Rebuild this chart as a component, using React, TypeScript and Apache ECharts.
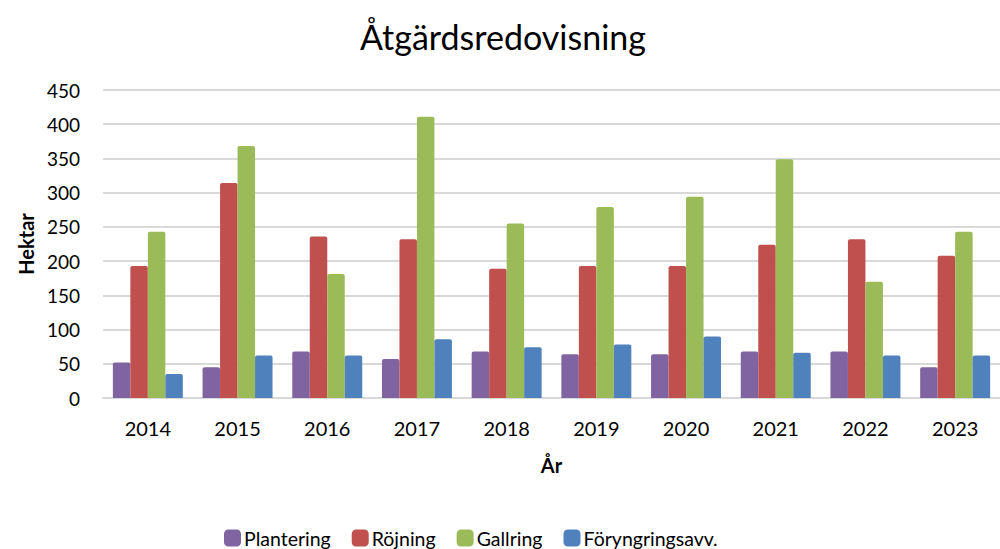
import React, { useEffect, useRef } from "react";
import * as echarts from "echarts";

const years = ["2014", "2015", "2016", "2017", "2018", "2019", "2020", "2021", "2022", "2023"];
const plantering = [52, 45, 68, 57, 68, 64, 64, 68, 68, 45];
const rojning = [193, 314, 236, 232, 189, 193, 193, 224, 232, 208];
const gallring = [243, 368, 181, 411, 255, 279, 294, 349, 170, 243];
const foryngring = [35, 62, 62, 86, 74, 78, 90, 66, 62, 62];

const seriesNames = ["Plantering", "Röjning", "Gallring", "Föryngringsavv."];
const seriesColors = ["#8064A2", "#C0504D", "#9BBB59", "#4F81BD"];

const FONT = "Lato, 'Open Sans', sans-serif";

export default function App() {
  const ref = useRef<HTMLDivElement>(null);
  useEffect(() => {
    if (!ref.current) return;
    const chart = echarts.init(ref.current, undefined, { renderer: "svg" });
    const data = [plantering, rojning, gallring, foryngring];
    chart.setOption({
      animation: false,
      backgroundColor: "#ffffff",
      textStyle: { fontFamily: FONT },
      title: {
        text: "Åtgärdsredovisning",
        left: 498,
        top: 14,
        textAlign: "center",
        textStyle: { fontFamily: FONT, fontSize: 34, fontWeight: "normal", color: "#000" },
      },
      legend: {
        data: seriesNames,
        left: 219,
        top: 523,
        itemWidth: 17,
        itemHeight: 17,
        itemGap: 21,
        icon: "roundRect",
        textStyle: { fontFamily: FONT, fontSize: 19.5, color: "#000", padding: [0, 0, 0, -2] },
      },
      grid: { left: 103, top: 90, bottom: 151, right: -11, containLabel: false },
      xAxis: {
        type: "category",
        data: years,
        name: "År",
        nameLocation: "middle",
        nameGap: 57,
        nameTextStyle: { fontFamily: FONT, fontSize: 20, fontWeight: "bold", color: "#000" },
        axisLine: { lineStyle: { color: "#d9d9d9", width: 2 } },
        axisTick: { show: false },
        axisLabel: { margin: 20, fontFamily: FONT, fontSize: 20, color: "#000" },
      },
      yAxis: {
        type: "value",
        min: 0,
        max: 450,
        interval: 50,
        name: "Hektar",
        nameLocation: "middle",
        nameGap: 64,
        nameTextStyle: { fontFamily: FONT, fontSize: 20, fontWeight: "bold", color: "#000" },
        axisLine: { show: false },
        axisTick: { show: false },
        axisLabel: { margin: 23, fontFamily: FONT, fontSize: 19, color: "#000" },
        splitLine: { lineStyle: { color: "#d9d9d9", width: 2 } },
      },
      series: seriesNames.map((name, i) => ({
        name,
        type: "bar",
        data: data[i],
        barGap: "0%",
        barCategoryGap: "22%",
        itemStyle: { color: seriesColors[i], borderRadius: [2, 2, 0, 0] },
      })),
    });
    return () => chart.dispose();
  }, []);
  return (
    <div style={{ position: "fixed", left: 0, top: 0, width: 1000, height: 549, overflow: "hidden" }}>
      <div ref={ref} style={{ width: 1000, height: 549 }} />
    </div>
  );
}
